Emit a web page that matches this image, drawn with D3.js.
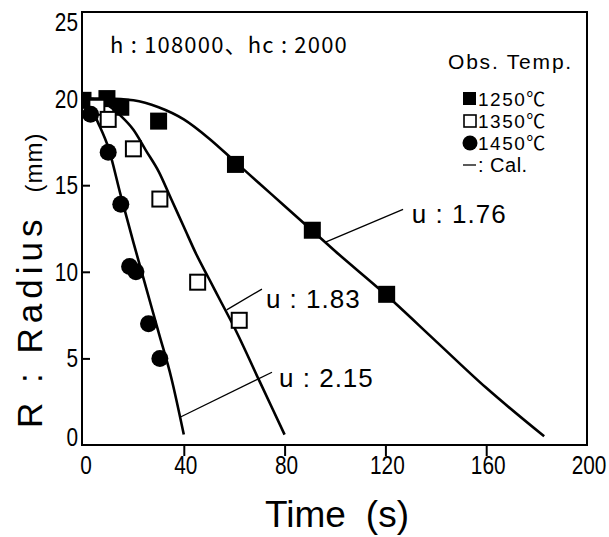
<!DOCTYPE html>
<html>
<head>
<meta charset="utf-8">
<script src="https://cdn.jsdelivr.net/npm/d3@7"></script>
<style>
  body { margin: 0; background: #fff; }
  svg { display: block; }
</style>
</head>
<body>
<script>
// window size
var wW = 609;
var wH = 537;

// observed radius (mm) vs time (s)
var t1250 = [0, 9.5, 15, 30, 60.5, 91, 120.5];
var r1250 = [19.9, 20.0, 19.5, 18.7, 16.2, 12.4, 8.7];
var t1350 = [5.5, 10, 20, 30.5, 45.5, 62];
var r1350 = [19.5, 18.8, 17.1, 14.2, 9.4, 7.2];
var t1450 = [3, 10, 15, 18.5, 21, 26, 30.5];
var r1450 = [19.1, 16.9, 13.9, 10.3, 10.0, 7.0, 5.0];

// calculated curves
var calT1250 = [0, 10, 20, 30, 40, 50, 60, 70, 80, 90, 100, 120, 140, 160, 183];
var calR1250 = [20, 20, 19.9, 19.5, 18.8, 17.7, 16.4, 15.1, 13.8, 12.5, 11.2, 8.7, 6.0, 3.3, 0.5];
var calT1350 = [0, 5, 10, 15, 20, 25, 30, 35, 40, 45, 50, 55, 60, 70, 80];
var calR1350 = [20, 19.95, 19.6, 19.0, 18.2, 17.0, 15.8, 14.2, 12.6, 11.0, 9.6, 8.2, 6.8, 3.7, 0.6];
var calT1450 = [0, 3, 6, 10, 15, 20, 25, 30, 35, 40];
var calR1450 = [20, 19.5, 18.6, 17.2, 14.4, 11.7, 9.1, 6.5, 3.9, 0.6];

// u labels: leader from curve point to label
var uLabels = ['u : 1.76', 'u : 1.83', 'u : 2.15'];
var uFrom = [[96, 11.7], [57, 7.8], [38.5, 1.6]];
var uTo = [[127, 13.6], [71, 9.0], [75, 4.2]];
var uText = [[130.5, 13.4], [72.6, 8.5], [77.8, 3.9]];

// ticks and legend
var tTicks = [0, 40, 80, 120, 160, 200];
var rTicks = [0, 5, 10, 15, 20, 25];
var legendLabels = ['1250℃', '1350℃', '1450℃', ' : Cal.'];

var textFont = '"Liberation Sans", Arial, "Noto Sans CJK JP", sans-serif';

var svg = d3.select('body').append('svg')
  .attr('width', wW)
  .attr('height', wH);

var plot = { left: 82, right: 587, top: 12, bottom: 445 };

var x = d3.scaleLinear().domain([0, 200]).range([83, 587]);
var y = d3.scaleLinear().domain([0, 25]).range([445, 12]);

// condensed text (no narrow font installed, so squeeze horizontally)
var narrowText = (parent, px, py, str, size, anchor, sx) => {
  return parent.append('text')
    .attr('transform', 'translate(' + px + ',' + py + ') scale(' + (sx || 0.8) + ',1)')
    .attr('text-anchor', anchor || 'start')
    .attr('font-family', textFont)
    .attr('font-size', size)
    .text(str);
}

svg.append('clipPath').attr('id', 'clip')
  .append('rect')
  .attr('x', plot.left).attr('y', plot.top)
  .attr('width', plot.right - plot.left)
  .attr('height', plot.bottom - plot.top);

// frame
svg.append('rect')
  .attr('x', plot.left).attr('y', plot.top)
  .attr('width', plot.right - plot.left)
  .attr('height', plot.bottom - plot.top)
  .attr('fill', 'none')
  .attr('stroke', '#000')
  .attr('stroke-width', 2);

// x ticks (inside, pointing up)
var xAxis = d3.axisTop(x).tickValues(tTicks.slice(1, 5)).tickSize(-11).tickFormat('');
svg.append('g')
  .attr('transform', 'translate(0,' + plot.bottom + ')')
  .call(xAxis)
  .call(g => g.select('.domain').remove())
  .selectAll('line').attr('stroke', '#000').attr('stroke-width', 2);

// y ticks (inside, pointing right)
var yAxis = d3.axisLeft(y).tickValues(rTicks.slice(1, 5)).tickSize(-8).tickFormat('');
svg.append('g')
  .attr('transform', 'translate(' + plot.left + ',0)')
  .call(yAxis)
  .call(g => g.select('.domain').remove())
  .selectAll('line').attr('stroke', '#000').attr('stroke-width', 2);

// tick labels
var xLab = svg.append('g');
tTicks.forEach((d) => {
  narrowText(xLab, x(d) + (d == 0 ? 3 : 2), 474, d, 26, 'middle');
});

var yLab = svg.append('g');
rTicks.forEach((d) => {
  var p = y(d);
  if (d == 25) p = 22;
  if (d == 0) p = 437;
  narrowText(yLab, 78, p + 9, d, 26, 'end');
});

// axis titles
var xTitle = svg.append('text')
  .attr('x', 337)
  .attr('y', 527)
  .attr('text-anchor', 'middle')
  .attr('font-family', textFont)
  .attr('font-size', 37);
xTitle.append('tspan').text('Time');
xTitle.append('tspan').attr('dx', 20).text('(s)');

var yTitle = svg.append('text')
  .attr('transform', 'translate(42,428) rotate(-90)')
  .attr('text-anchor', 'start')
  .attr('font-family', textFont)
  .attr('font-size', 35)
  .attr('letter-spacing', 5);
yTitle.append('tspan').text('R : Radius');
yTitle.append('tspan').attr('dx', 22).attr('font-size', 24).attr('letter-spacing', 1).text('(mm)');

// header note
svg.append('text')
  .attr('x', 110)
  .attr('y', 53)
  .attr('font-family', '"Noto Sans CJK JP", sans-serif')
  .attr('font-size', 22)
  .attr('letter-spacing', 1.2)
  .text('h : 108000、hc : 2000');

// calculated curves
var line = d3.line()
  .x(d => x(d[0]))
  .y(d => y(d[1]))
  .curve(d3.curveMonotoneX);

var calSets = [[calT1250, calR1250], [calT1350, calR1350], [calT1450, calR1450]];
var plotG = svg.append('g').attr('clip-path', 'url(#clip)');

calSets.forEach((s) => {
  plotG.append('path')
    .datum(s[0].map((t, i) => [t, s[1][i]]))
    .attr('fill', 'none')
    .attr('stroke', '#000')
    .attr('stroke-width', 2.6)
    .attr('d', line);
});

// leaders and u labels
uLabels.forEach((lbl, i) => {
  svg.append('line')
    .attr('x1', x(uFrom[i][0])).attr('y1', y(uFrom[i][1]))
    .attr('x2', x(uTo[i][0])).attr('y2', y(uTo[i][1]))
    .attr('stroke', '#000')
    .attr('stroke-width', 1.3);
  svg.append('text')
    .attr('x', x(uText[i][0]))
    .attr('y', y(uText[i][1]) + 10)
    .attr('font-family', textFont)
    .attr('font-size', 26)
    .attr('letter-spacing', 1)
    .text(lbl);
});

// observed markers
var sq = 17;
t1250.forEach((t, i) => {
  plotG.append('rect')
    .attr('x', x(t) - sq / 2).attr('y', y(r1250[i]) - sq / 2)
    .attr('width', sq).attr('height', sq)
    .attr('fill', '#000');
});
t1350.forEach((t, i) => {
  plotG.append('rect')
    .attr('x', x(t) - 7.5).attr('y', y(r1350[i]) - 7.5)
    .attr('width', 15).attr('height', 15)
    .attr('fill', '#fff')
    .attr('stroke', '#000')
    .attr('stroke-width', 2);
});
t1450.forEach((t, i) => {
  plotG.append('circle')
    .attr('cx', x(t)).attr('cy', y(r1450[i]))
    .attr('r', 8.5)
    .attr('fill', '#000');
});

// legend
var lg = svg.append('g').attr('transform', 'translate(448,0)');
lg.append('text')
  .attr('x', 0).attr('y', 69)
  .attr('font-family', textFont)
  .attr('font-size', 21)
  .attr('letter-spacing', 1.8)
  .text('Obs. Temp.');

legendLabels.forEach((lbl, i) => {
  var cy = 99 + i * 22;
  if (i == 0) {
    lg.append('rect').attr('x', 15).attr('y', cy - 7).attr('width', 13).attr('height', 13).attr('fill', '#000');
  } else if (i == 1) {
    lg.append('rect').attr('x', 16).attr('y', cy - 6).attr('width', 12).attr('height', 12)
      .attr('fill', '#fff').attr('stroke', '#000').attr('stroke-width', 1.6);
  } else if (i == 2) {
    lg.append('circle').attr('cx', 22).attr('cy', cy).attr('r', 7.5).attr('fill', '#000');
  } else {
    lg.append('line').attr('x1', 15).attr('x2', 28).attr('y1', cy).attr('y2', cy)
      .attr('stroke', '#000').attr('stroke-width', 1.3);
  }
  lg.append('text')
    .attr('x', 30).attr('y', cy + 7)
    .attr('font-family', textFont)
    .attr('font-size', i == 3 ? 20 : 19)
    .attr('letter-spacing', i == 3 ? 0.5 : 1.5)
    .text(lbl);
});
</script>
</body>
</html>
